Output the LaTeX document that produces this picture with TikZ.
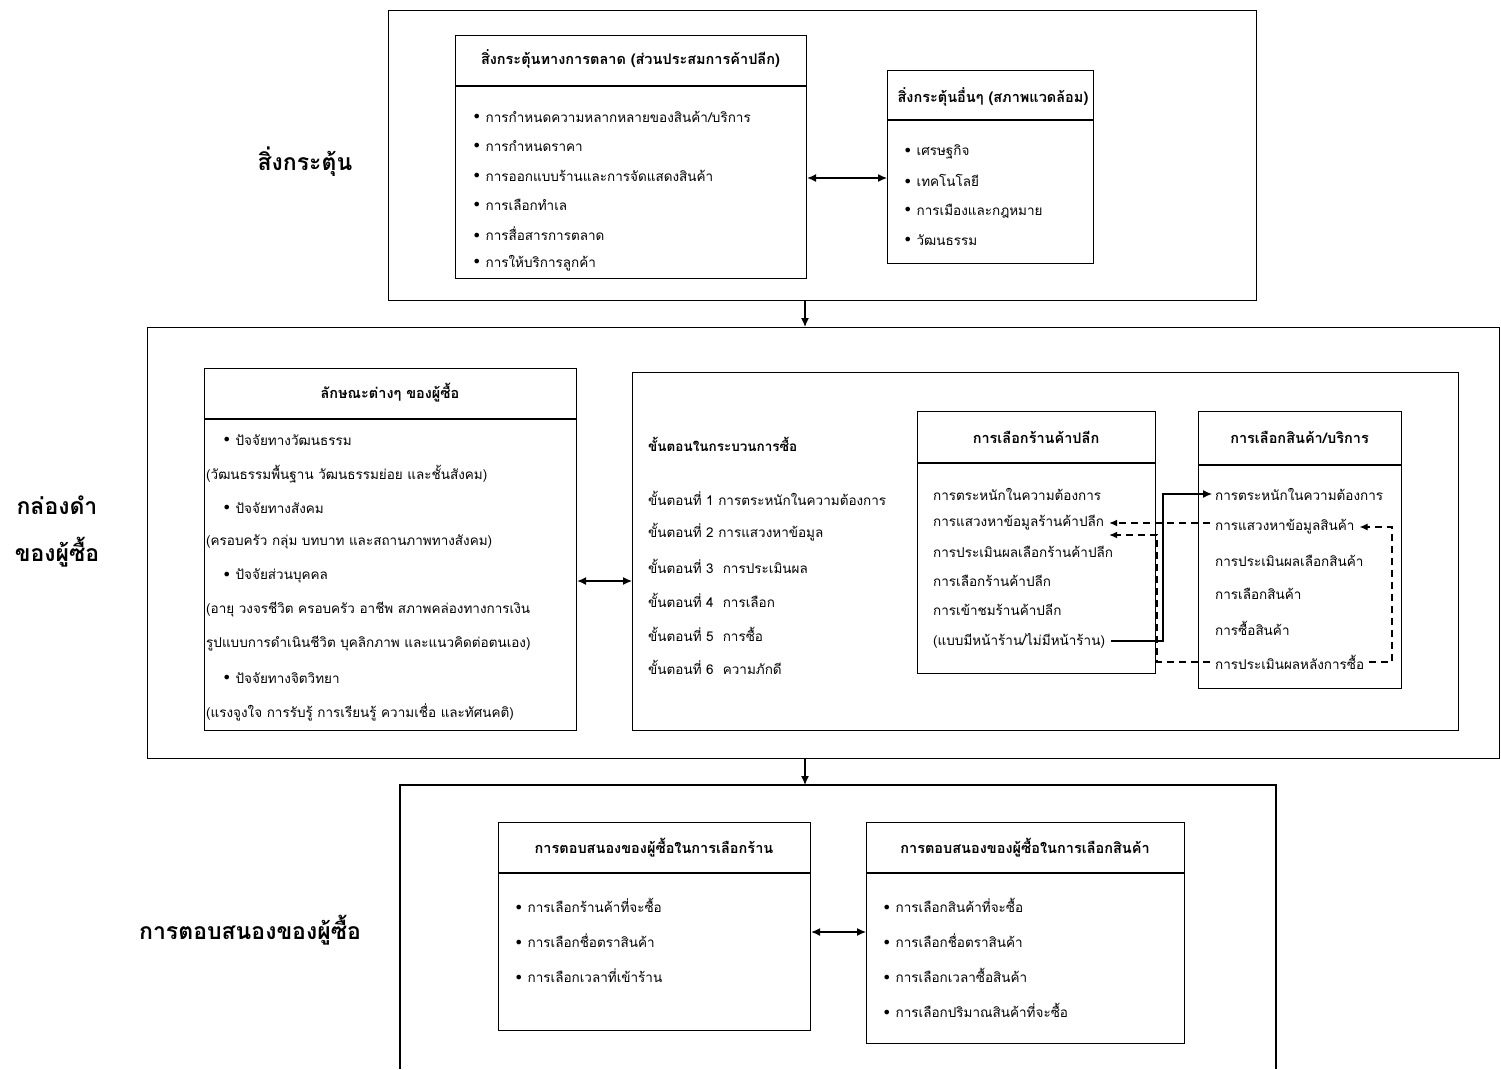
\documentclass[tikz,border=0pt]{standalone}
\usepackage{fontspec}
\newfontfamily\thai[Script=Thai]{Loma}
\newfontfamily\dejavu{DejaVu Sans}
\usetikzlibrary{arrows.meta}
\newcommand{\bul}{{\dejavu\fontsize{16}{12}\selectfont\raisebox{-0.6pt}{•}}\hspace{4pt}}
\tikzset{
  frame/.style={draw, line width=1.4pt},
  boxx/.style={draw, line width=1.1pt},
  head/.style={font=\thai\bfseries\fontsize{14.5}{16}\selectfont, inner sep=0pt},
  item/.style={font=\thai\fontsize{13.5}{15}\selectfont, anchor=west, inner sep=0pt},
  big/.style={font=\thai\bfseries\fontsize{23}{26}\selectfont, inner sep=0pt},
  arr/.style={-{Latex[length=9pt,width=8pt]}, line width=1.3pt},
  dbl/.style={{Latex[length=9pt,width=8pt]}-{Latex[length=9pt,width=8pt]}, line width=1.3pt},
  darr/.style={-{Latex[length=8pt,width=7pt]}, line width=1.2pt, dash pattern=on 7pt off 5pt},
}
\begin{document}
\begin{tikzpicture}[x=1pt,y=-1pt]
\useasboundingbox[fill=white] (0,0) rectangle (1501,1069);

% ---------- top: stimuli ----------
\node[frame, anchor=north west, minimum width=868pt, minimum height=290pt] (top) at (388,10) {};
\node[big] (lstim) at (305,162) {สิ่งกระตุ้น};

\node[boxx, anchor=north west, minimum width=351pt, minimum height=243pt] (mkt) at (455,35) {};
\draw[line width=1.1pt] (455,86) -- (806,86);
\node[head] (mkth) at (630.5,59) {สิ่งกระตุ้นทางการตลาด (ส่วนประสมการค้าปลีก)};
\node[item] (m1) at (472,117) {\bul การกำหนดความหลากหลายของสินค้า/บริการ};
\node[item] (m2) at (472,146) {\bul การกำหนดราคา};
\node[item] (m3) at (472,176) {\bul การออกแบบร้านและการจัดแสดงสินค้า};
\node[item] (m4) at (472,205) {\bul การเลือกทำเล};
\node[item] (m5) at (472,234) {\bul การสื่อสารการตลาด};
\node[item] (m6) at (472,263) {\bul การให้บริการลูกค้า};

\node[boxx, anchor=north west, minimum width=206pt, minimum height=193pt] (oth) at (887,70) {};
\draw[line width=1.1pt] (887,120) -- (1093,120);
\node[head] (othh) at (993,97) {สิ่งกระตุ้นอื่นๆ (สภาพแวดล้อม)};
\node[item] (o1) at (903,152) {\bul เศรษฐกิจ};
\node[item] (o2) at (903,181) {\bul เทคโนโลยี};
\node[item] (o3) at (903,211) {\bul การเมืองและกฎหมาย};
\node[item] (o4) at (903,240) {\bul วัฒนธรรม};

\draw[dbl] (mkt.east |- 0,178) -- (oth.west |- 0,178);

% ---------- middle: black box ----------
\node[frame, anchor=north west, minimum width=1352pt, minimum height=431pt] (mid) at (147,327) {};
\draw[arr] (top.south -| 805,0) -- (mid.north -| 805,0);
\node[big] (lbb1) at (57,505) {กล่องดำ};
\node[big] (lbb2) at (57,552) {ของผู้ซื้อ};

\node[boxx, anchor=north west, minimum width=372pt, minimum height=362pt] (buy) at (204,368) {};
\draw[line width=1.1pt] (204,419) -- (576,419);
\node[head] (buyh) at (390,393) {ลักษณะต่างๆ ของผู้ซื้อ};
\node[item] (b1) at (222,440) {\bul ปัจจัยทางวัฒนธรรม};
\node[item] (b2) at (206,474) {(วัฒนธรรมพื้นฐาน วัฒนธรรมย่อย และชั้นสังคม)};
\node[item] (b3) at (222,508) {\bul ปัจจัยทางสังคม};
\node[item] (b4) at (206,542) {(ครอบครัว กลุ่ม บทบาท และสถานภาพทางสังคม)};
\node[item] (b5) at (222,576) {\bul ปัจจัยส่วนบุคคล};
\node[item] (b6) at (206,610) {(อายุ วงจรชีวิต ครอบครัว อาชีพ สภาพคล่องทางการเงิน};
\node[item] (b7) at (206,644) {รูปแบบการดำเนินชีวิต บุคลิกภาพ และแนวคิดต่อตนเอง)};
\node[item] (b8) at (222,678) {\bul ปัจจัยทางจิตวิทยา};
\node[item] (b9) at (206,712) {(แรงจูงใจ การรับรู้ การเรียนรู้ ความเชื่อ และทัศนคติ)};

\node[boxx, anchor=north west, minimum width=826pt, minimum height=358pt] (proc) at (632,372) {};
\draw[dbl] (buy.east |- 0,581) -- (proc.west |- 0,581);
\node[item, font=\thai\bfseries\fontsize{13.5}{15}\selectfont] (ph) at (648,444) {ขั้นตอนในกระบวนการซื้อ};
\node[item] (t1) at (648,498) {ขั้นตอนที่ 1 การตระหนักในความต้องการ};
\node[item] (t2) at (648,532) {ขั้นตอนที่ 2 การแสวงหาข้อมูล};
\node[item] (t3) at (648,566) {ขั้นตอนที่ 3 ~การประเมินผล};
\node[item] (t4) at (648,600) {ขั้นตอนที่ 4 ~การเลือก};
\node[item] (t5) at (648,634) {ขั้นตอนที่ 5 ~การซื้อ};
\node[item] (t6) at (648,667) {ขั้นตอนที่ 6 ~ความภักดี};

\node[boxx, anchor=north west, minimum width=238pt, minimum height=262pt] (st) at (917,411) {};
\draw[line width=1.1pt] (917,463) -- (1155,463);
\node[head] (sth) at (1036,437) {การเลือกร้านค้าปลีก};
\node[item] (s1) at (933,494) {การตระหนักในความต้องการ};
\node[item] (s2) at (933,523) {การแสวงหาข้อมูลร้านค้าปลีก};
\node[item] (s3) at (933,552) {การประเมินผลเลือกร้านค้าปลีก};
\node[item] (s4) at (933,581) {การเลือกร้านค้าปลีก};
\node[item] (s5) at (933,610) {การเข้าชมร้านค้าปลีก};
\node[item] (s6) at (933,641) {(แบบมีหน้าร้าน/ไม่มีหน้าร้าน)};

\node[boxx, anchor=north west, minimum width=203pt, minimum height=277pt] (pr) at (1198,411) {};
\draw[line width=1.1pt] (1198,465) -- (1401,465);
\node[head] (prh) at (1299.5,437) {การเลือกสินค้า/บริการ};
\node[item] (p1) at (1215,494) {การตระหนักในความต้องการ};
\node[item] (p2) at (1215,527) {การแสวงหาข้อมูลสินค้า};
\node[item] (p3) at (1215,561) {การประเมินผลเลือกสินค้า};
\node[item] (p4) at (1215,594) {การเลือกสินค้า};
\node[item] (p5) at (1215,628) {การซื้อสินค้า};
\node[item] (p6) at (1215,662) {การประเมินผลหลังการซื้อ};

% connectors between store and product
\coordinate (c1) at (1163,570);
\draw[arr, line width=1.2pt] ([xshift=6pt]s6.east) -| (c1) |- ([xshift=-3pt]p1.west);
\draw[darr] ([xshift=-5pt]p2.west |- 0,523) -- ([xshift=5pt]s2.east);
\draw[darr] ([xshift=-5pt]p6.west) -- (1157,662) |- ([xshift=5pt]s2.east |- 0,535);
\draw[darr] ([xshift=5pt]p6.east) -- (1392,662) |- ([xshift=5pt]p2.east);

% ---------- bottom: response ----------
\draw[arr] (mid.south -| 805,0) -- (805,785);
\draw[line width=1.4pt] (400,1069) -- (400,785) -- (1276,785) -- (1276,1069);
\node[big] (lresp) at (250,930) {การตอบสนองของผู้ซื้อ};

\node[boxx, anchor=north west, minimum width=312pt, minimum height=208pt] (rs) at (498,822) {};
\draw[line width=1.1pt] (498,873) -- (810,873);
\node[head] (rsh) at (654,848) {การตอบสนองของผู้ซื้อในการเลือกร้าน};
\node[item] (r1) at (514,906) {\bul การเลือกร้านค้าที่จะซื้อ};
\node[item] (r2) at (514,941) {\bul การเลือกชื่อตราสินค้า};
\node[item] (r3) at (514,976) {\bul การเลือกเวลาที่เข้าร้าน};

\node[boxx, anchor=north west, minimum width=318pt, minimum height=221pt] (rp) at (866,822) {};
\draw[line width=1.1pt] (866,873) -- (1184,873);
\node[head] (rph) at (1025,848) {การตอบสนองของผู้ซื้อในการเลือกสินค้า};
\node[item] (q1) at (882,906) {\bul การเลือกสินค้าที่จะซื้อ};
\node[item] (q2) at (882,941) {\bul การเลือกชื่อตราสินค้า};
\node[item] (q3) at (882,976) {\bul การเลือกเวลาซื้อสินค้า};
\node[item] (q4) at (882,1011) {\bul การเลือกปริมาณสินค้าที่จะซื้อ};

\draw[dbl] (rs.east |- 0,932) -- (rp.west |- 0,932);
\end{tikzpicture}
\end{document}
